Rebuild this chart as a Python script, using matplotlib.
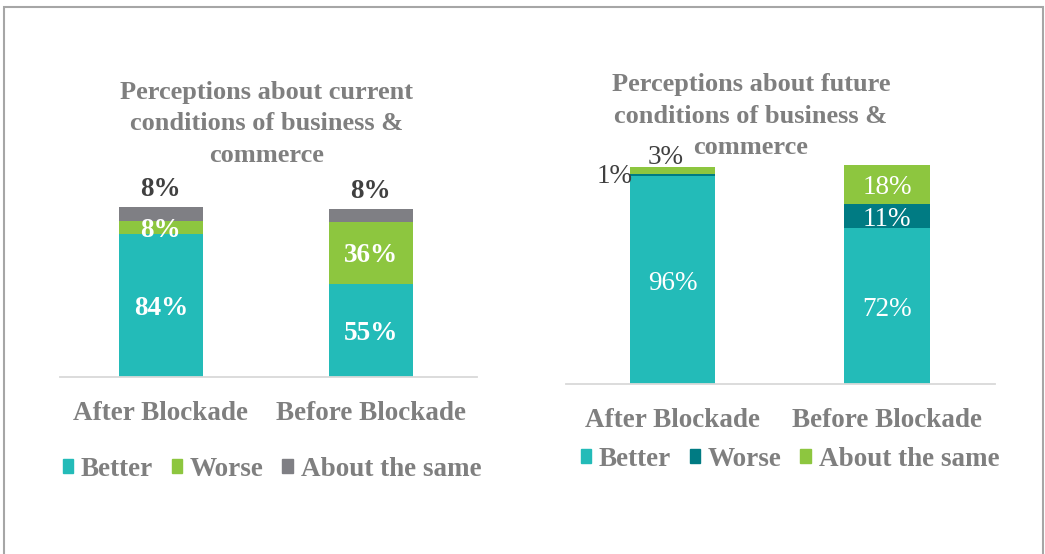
import matplotlib
matplotlib.use("Agg")
import matplotlib.pyplot as plt
from matplotlib.patches import Rectangle, Patch
from matplotlib.transforms import offset_copy

# ── Data ─────────────────────────────────────────────────────────────────────
categories = ["After Blockade", "Before Blockade"]
series = ["Better", "Worse", "About the same"]

current_better = [84, 55]
current_worse = [8, 36]
current_same = [8, 8]

future_better = [96, 72]
future_worse = [1, 11]
future_same = [3, 18]

title_current = ["Perceptions about current", "conditions of business &", "commerce"]
title_future = ["Perceptions about future", "conditions of business &", "commerce"]

TEAL = "#23BBB8"
GREEN = "#8DC63F"
GRAY = "#7F7F84"
DARK_TEAL = "#007B83"
TXT = "#7F7F7F"
DARK = "#404040"

plt.rcParams["font.family"] = ["Liberation Serif", "DejaVu Serif"]

W, H = 1045, 554
fig = plt.figure(figsize=(W / 100, H / 100), dpi=100)

LBL = 19.5   # data label size
CAT = 19.5   # category / legend size
TTL = 19     # title size


def px_axes(x0, x1, y_base, y_top):
    return fig.add_axes([x0 / W, (H - y_base) / H, (x1 - x0) / W, (y_base - y_top) / H])


def style(ax):
    for s in ["top", "right", "left"]:
        ax.spines[s].set_visible(False)
    ax.spines["bottom"].set_color("#D9D9D9")
    ax.spines["bottom"].set_linewidth(1.3)
    ax.set_yticks([])
    ax.set_xticks(range(len(categories)))
    ax.set_xticklabels(categories, fontsize=CAT, fontweight="bold", color=TXT)
    ax.tick_params(axis="x", length=0, pad=17)


def title_lines(lines, xc, y0, step):
    for k, line in enumerate(lines):
        fig.text(xc / W, 1 - (y0 + k * step) / H, line, ha="center", va="center",
                 fontsize=TTL, fontweight="bold", color=TXT)


def legend(handles, xc, yc):
    fig.legend(handles=handles, labels=series, loc="center",
               bbox_to_anchor=(xc / W, 1 - yc / H), ncol=3, frameon=False,
               handlelength=0.38, handleheight=0.42, handletextpad=0.3,
               columnspacing=0.68, prop={"size": CAT, "weight": "bold"},
               labelcolor=TXT)


# outer frame
fig.add_artist(Rectangle((4 / W, -0.05), 1039 / W, (H - 7) / H + 0.05,
                         transform=fig.transFigure, fill=False,
                         edgecolor="#A6A6A6", linewidth=1.5))

x = range(len(categories))

# ── Left chart: current conditions ──────────────────────────────────────────
ax1 = px_axes(60, 477, 377, 139)
ax1.bar(x, current_better, width=0.4, color=TEAL)
ax1.bar(x, current_worse, width=0.4, bottom=current_better, color=GREEN)
bot = [a + b for a, b in zip(current_better, current_worse)]
ax1.bar(x, current_same, width=0.4, bottom=bot, color=GRAY)
ax1.set_xlim(-0.48, 1.505)
ax1.set_ylim(0, 140)
style(ax1)
tr1 = offset_copy(ax1.transData, fig=fig, x=0, y=-3, units="dots")
for i in x:
    ax1.text(i, current_better[i] / 2, f"{current_better[i]}%", ha="center", va="center",
             color="white", fontsize=LBL, fontweight="bold", transform=tr1)
    ax1.text(i, current_better[i] + current_worse[i] / 2, f"{current_worse[i]}%",
             ha="center", va="center", color="white", fontsize=LBL, fontweight="bold",
             transform=tr1)
    ax1.text(i, bot[i] + current_same[i] + 12, f"{current_same[i]}%", ha="center",
             va="center", color=DARK, fontsize=LBL, fontweight="bold", transform=tr1)

title_lines(title_current, 267, 93, 31)
legend([Patch(color=TEAL), Patch(color=GREEN), Patch(color=GRAY)], 272, 469)

# ── Right chart: future conditions ──────────────────────────────────────────
ax2 = px_axes(566, 995, 384, 124)
ax2.bar(x, future_better, width=0.4, color=TEAL)
ax2.bar(x, future_worse, width=0.4, bottom=future_better, color=DARK_TEAL)
fbot = [a + b for a, b in zip(future_better, future_worse)]
ax2.bar(x, future_same, width=0.4, bottom=fbot, color=GREEN)
ax2.set_xlim(-0.4965, 1.503)
ax2.set_ylim(0, 120)
style(ax2)
tr2 = offset_copy(ax2.transData, fig=fig, x=0, y=-3, units="dots")
for i in x:
    ax2.text(i, future_better[i] / 2, f"{future_better[i]}%", ha="center", va="center",
             color="white", fontsize=LBL, transform=tr2)
# small segments labelled outside the first bar
ax2.text(-0.27, future_better[0] + 1, f"{future_worse[0]}%", ha="center", va="center",
         color=DARK, fontsize=LBL, transform=tr2)
ax2.text(-0.03, fbot[0] + future_same[0] + 6, f"{future_same[0]}%", ha="center",
         va="center", color=DARK, fontsize=LBL, transform=tr2)
ax2.text(1, future_better[1] + future_worse[1] / 2, f"{future_worse[1]}%", ha="center",
         va="center", color="white", fontsize=LBL, transform=tr2)
ax2.text(1, fbot[1] + future_same[1] / 2, f"{future_same[1]}%", ha="center",
         va="center", color="white", fontsize=LBL, transform=tr2)

title_lines(title_future, 751, 85, 31.5)
legend([Patch(color=TEAL), Patch(color=DARK_TEAL), Patch(color=GREEN)], 790, 459)

fig.savefig("out.png", dpi=100)
